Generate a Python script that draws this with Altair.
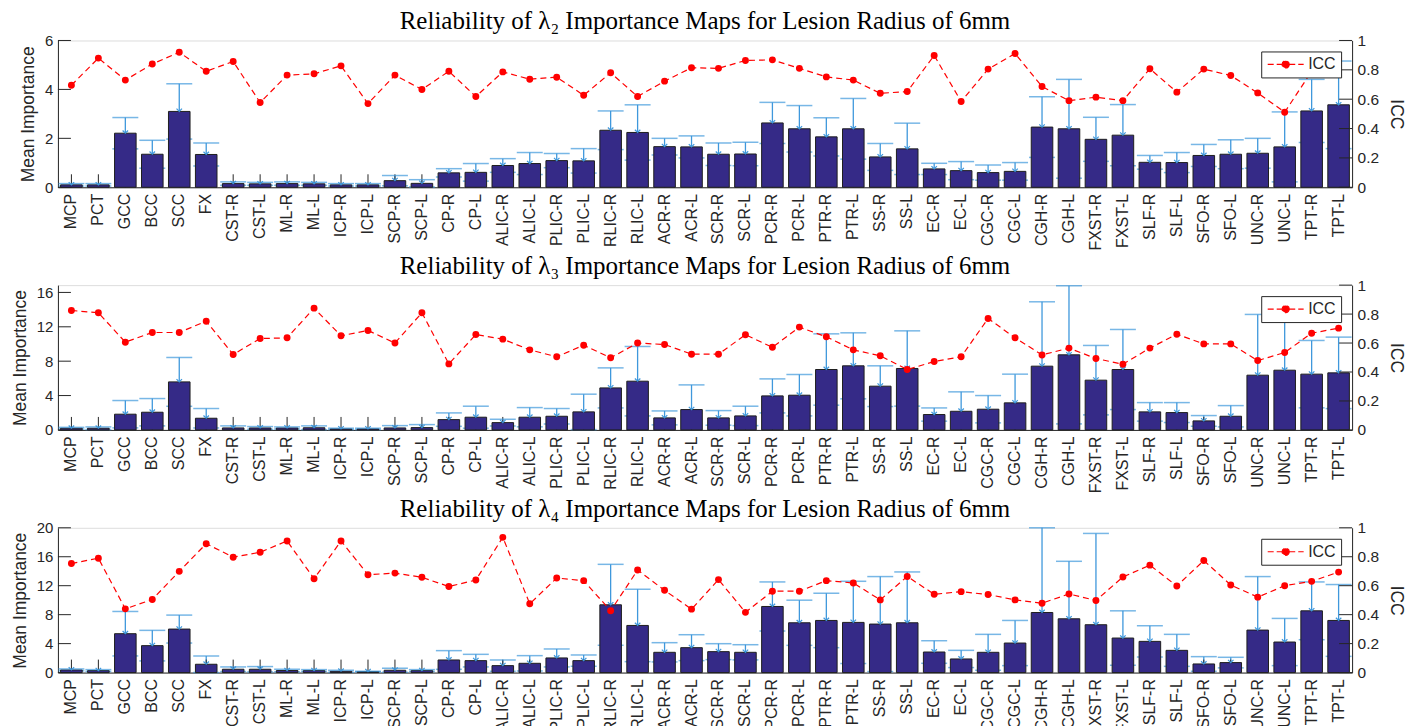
import altair as alt
import pandas as pd

categories = ["MCP", "PCT", "GCC", "BCC", "SCC", "FX", "CST-R", "CST-L", "ML-R", "ML-L",
              "ICP-R", "ICP-L", "SCP-R", "SCP-L", "CP-R", "CP-L", "ALIC-R", "ALIC-L",
              "PLIC-R", "PLIC-L", "RLIC-R", "RLIC-L", "ACR-R", "ACR-L", "SCR-R", "SCR-L",
              "PCR-R", "PCR-L", "PTR-R", "PTR-L", "SS-R", "SS-L", "EC-R", "EC-L",
              "CGC-R", "CGC-L", "CGH-R", "CGH-L", "FXST-R", "FXST-L", "SLF-R", "SLF-L",
              "SFO-R", "SFO-L", "UNC-R", "UNC-L", "TPT-R", "TPT-L"]

# lambda 2
mean_l2 = [0.10, 0.10, 2.21, 1.35, 3.10, 1.34, 0.15, 0.14, 0.15, 0.14, 0.10, 0.10, 0.27, 0.16, 0.59, 0.61,
           0.89, 0.97, 1.09, 1.08, 2.33, 2.24, 1.66, 1.65, 1.35, 1.36, 2.63, 2.39, 2.06, 2.39, 1.24, 1.57,
           0.75, 0.68, 0.60, 0.65, 2.46, 2.39, 1.96, 2.13, 1.02, 1.01, 1.30, 1.35, 1.39, 1.65, 3.12, 3.37]
upper_l2 = [0.15, 0.15, 2.85, 1.92, 4.23, 1.81, 0.22, 0.20, 0.22, 0.20, 0.15, 0.15, 0.48, 0.31, 0.76, 0.97,
            1.17, 1.42, 1.38, 1.58, 3.12, 3.37, 2.00, 2.10, 1.81, 1.84, 3.47, 3.34, 2.84, 3.63, 1.79, 2.62,
            0.98, 1.05, 0.91, 1.01, 3.70, 4.41, 2.86, 3.38, 1.30, 1.42, 1.75, 1.94, 2.00, 3.08, 4.41, 5.16]
icc_l2 = [0.695, 0.88, 0.73, 0.84, 0.92, 0.79, 0.857, 0.577, 0.764, 0.773, 0.827, 0.57, 0.764, 0.666, 0.79, 0.618,
          0.786, 0.736, 0.75, 0.627, 0.78, 0.618, 0.723, 0.814, 0.81, 0.864, 0.868, 0.81, 0.752, 0.73, 0.64, 0.652,
          0.898, 0.584, 0.805, 0.911, 0.686, 0.59, 0.614, 0.59, 0.807, 0.648, 0.805, 0.761, 0.643, 0.511, 0.79, 0.873]

# lambda 3
mean_l3 = [0.20, 0.20, 1.83, 2.06, 5.59, 1.36, 0.23, 0.23, 0.23, 0.25, 0.12, 0.12, 0.23, 0.27, 1.20, 1.48,
           0.85, 1.48, 1.59, 2.10, 4.89, 5.67, 1.40, 2.37, 1.40, 1.63, 3.96, 4.04, 7.03, 7.46, 5.09, 7.15,
           1.79, 2.17, 2.41, 3.15, 7.42, 8.74, 5.79, 7.03, 2.10, 2.02, 1.05, 1.59, 6.37, 6.95, 6.49, 6.64]
upper_l3 = [0.30, 0.35, 3.42, 3.65, 8.43, 2.49, 0.47, 0.39, 0.35, 0.47, 0.20, 0.20, 0.50, 0.62, 1.98, 2.76,
            1.24, 2.60, 2.49, 4.16, 7.22, 9.71, 2.21, 5.24, 2.25, 2.76, 5.94, 6.45, 11.18, 11.30, 7.46, 11.53,
            2.56, 4.43, 4.00, 6.49, 14.91, 16.78, 9.83, 11.69, 3.18, 3.18, 1.67, 2.83, 13.44, 13.90, 10.41, 10.80]
icc_l3 = [0.825, 0.809, 0.606, 0.673, 0.673, 0.751, 0.521, 0.631, 0.636, 0.841, 0.65, 0.687, 0.6, 0.809, 0.456, 0.659,
          0.627, 0.553, 0.505, 0.585, 0.498, 0.6, 0.59, 0.523, 0.523, 0.657, 0.571, 0.71, 0.643, 0.553, 0.512, 0.417,
          0.472, 0.505, 0.77, 0.636, 0.518, 0.565, 0.493, 0.454, 0.565, 0.661, 0.594, 0.594, 0.479, 0.535, 0.668, 0.703]

# lambda 4
mean_l4 = [0.37, 0.28, 5.37, 3.72, 6.01, 1.15, 0.46, 0.46, 0.28, 0.28, 0.18, 0.14, 0.32, 0.28, 1.74, 1.65,
           0.96, 1.28, 2.02, 1.65, 9.36, 6.51, 2.80, 3.44, 2.89, 2.80, 9.13, 6.88, 7.20, 6.93, 6.70, 6.88,
           2.84, 1.88, 2.80, 4.08, 8.30, 7.43, 6.61, 4.77, 4.31, 3.07, 1.19, 1.38, 5.87, 4.22, 8.53, 7.20]
upper_l4 = [0.50, 0.41, 8.44, 5.83, 7.94, 2.29, 0.78, 0.83, 0.46, 0.41, 0.32, 0.18, 0.60, 0.41, 3.03, 2.52,
            1.74, 2.34, 3.26, 2.43, 14.95, 11.51, 4.13, 5.23, 3.99, 3.85, 12.52, 10.00, 10.96, 12.61, 13.26, 13.90,
            4.40, 3.07, 5.28, 7.20, 20.00, 15.37, 19.22, 8.53, 6.47, 5.28, 2.20, 2.11, 13.26, 7.48, 12.52, 12.16]
icc_l4 = [0.753, 0.79, 0.44, 0.505, 0.699, 0.89, 0.797, 0.831, 0.909, 0.648, 0.909, 0.676, 0.687, 0.658, 0.594, 0.639,
          0.934, 0.475, 0.653, 0.635, 0.427, 0.708, 0.568, 0.438, 0.642, 0.416, 0.562, 0.562, 0.635, 0.619, 0.502, 0.664,
          0.541, 0.559, 0.539, 0.502, 0.479, 0.543, 0.498, 0.66, 0.742, 0.598, 0.774, 0.605, 0.521, 0.6, 0.63, 0.694]

titles = ["Reliability of λ₂ Importance Maps for Lesion Radius of 6mm",
          "Reliability of λ₃ Importance Maps for Lesion Radius of 6mm",
          "Reliability of λ₄ Importance Maps for Lesion Radius of 6mm"]
left_max = [6, 16.85, 20]
left_ticks = [[0, 2, 4, 6], [0, 4, 8, 12, 16], [0, 4, 8, 12, 16, 20]]
icc_ticks = [0, 0.2, 0.4, 0.6, 0.8, 1]
panel_heights = [147, 145, 145]

W = 1296
BAR = "#352a87"
ERR = "#3f98dc"
RED = "#ff0000"
AX = "#262626"

# dashed line with a dot in its middle (legend sample); unit = sqrt(size)/2 px
LEGEND_PATH = ("M-1,0L1.22,0M2.32,0L4.54,0"
               "M2.32,0A0.55,0.55 0 1 1 1.22,0A0.55,0.55 0 1 1 2.32,0")


def panel(title, mean, upper, icc, ymax, yt, H):
    df = pd.DataFrame({"cat": categories, "mean": mean, "upper": upper, "icc": icc})
    df["lower"] = (2 * df["mean"] - df["upper"]).clip(lower=0)
    df["series"] = "ICC"
    tdf = pd.DataFrame({"v": yt})
    idf = pd.DataFrame({"v": icc_ticks})

    xenc = alt.X("cat:N", sort=categories, title=None,
                 scale=alt.Scale(paddingInner=0.2, paddingOuter=0.1),
                 axis=alt.Axis(labelAngle=-90, labelFontSize=16, labelColor=AX, ticks=False,
                               domainColor=AX, labelPadding=6, labelFont="Liberation Sans"))
    ls = alt.Scale(domain=[0, ymax], nice=False, zero=True)
    rs = alt.Scale(domain=[0, 1], nice=False)
    LA = alt.Axis(orient="left", values=yt, title="Mean Importance", ticks=False,
                  grid=False, labelFontSize=15, titleFontSize=17.5, titleFontWeight="normal",
                  labelColor=AX, titleColor=AX, domainColor=AX, labelPadding=5,
                  titlePadding=7, labelFont="Liberation Sans", titleFont="Liberation Sans")
    RA = alt.Axis(orient="right", values=icc_ticks, format="~g", title="ICC", ticks=False,
                  grid=False, labelFontSize=15.5, titleFontSize=17.5, titleFontWeight="normal",
                  labelColor=AX, titleColor=AX, domainColor=AX, labelPadding=5,
                  titlePadding=8, labelFont="Liberation Sans", titleFont="Liberation Sans")

    base = alt.Chart(df)
    err = base.mark_rule(color=ERR, strokeWidth=1.3).encode(
        x=xenc, y=alt.Y("lower:Q", scale=ls, axis=LA), y2="upper:Q")
    lowcap = base.transform_filter("datum.lower > 0").mark_tick(
        color=ERR, thickness=1.5, size=26).encode(x=xenc, y=alt.Y("lower:Q", scale=ls, axis=LA))
    xt = base.mark_rule(color=AX, strokeWidth=1).encode(
        x=xenc, y=alt.value(H), y2=alt.value(H - 13))
    ytl = alt.Chart(tdf).mark_rule(color=AX, strokeWidth=1).encode(
        y=alt.Y("v:Q", scale=ls, axis=LA), x=alt.value(0), x2=alt.value(13))
    bars = base.mark_bar(color=BAR, stroke="#1e1e1e", strokeWidth=1).encode(
        x=xenc, y=alt.Y("mean:Q", scale=ls, axis=LA))
    upcap = base.mark_tick(color=ERR, thickness=1.5, size=26).encode(
        x=xenc, y=alt.Y("upper:Q", scale=ls, axis=LA))
    arrow = base.mark_point(shape="M-1,-1L0,0L1,-1", size=30, filled=False, color=ERR,
                            strokeWidth=1.2, opacity=1).encode(
        x=xenc, y=alt.Y("mean:Q", scale=ls, axis=LA))
    left = alt.layer(err, lowcap, xt, ytl, bars, upcap, arrow)

    line = base.mark_line(strokeDash=[6, 4], strokeWidth=1.2).encode(
        x=xenc,
        y=alt.Y("icc:Q", scale=rs, axis=RA),
        color=alt.Color("series:N", scale=alt.Scale(domain=["ICC"], range=[RED]),
                        legend=alt.Legend(title=None, orient="top-right", offset=11,
                                          symbolType=LEGEND_PATH, symbolSize=169,
                                          symbolStrokeWidth=1.2, symbolDash=[6, 3],
                                          symbolFillColor=RED, symbolStrokeColor=RED,
                                          labelFontSize=16, labelColor=AX, labelFont="Liberation Sans",
                                          fillColor="white", strokeColor=AX, padding=5,
                                          labelOffset=26)))
    pts = base.mark_point(filled=True, size=48, color=RED, opacity=1).encode(
        x=xenc, y=alt.Y("icc:Q", scale=rs, axis=RA))
    ytr = alt.Chart(idf).mark_rule(color=AX, strokeWidth=1).encode(
        y=alt.Y("v:Q", scale=rs, axis=RA), x=alt.value(W - 13), x2=alt.value(W))
    right = alt.layer(ytr, line, pts)

    return alt.layer(left, right).resolve_scale(y="independent").properties(
        width=W, height=H,
        title=alt.TitleParams(title, font="Liberation Serif", fontSize=25, fontWeight="normal",
                              color="black", offset=-1, anchor="middle"))


p1 = panel(titles[0], mean_l2, upper_l2, icc_l2, left_max[0], left_ticks[0], panel_heights[0])
p2 = panel(titles[1], mean_l3, upper_l3, icc_l3, left_max[1], left_ticks[1], panel_heights[1])
p3 = panel(titles[2], mean_l4, upper_l4, icc_l4, left_max[2], left_ticks[2], panel_heights[2])

chart = alt.vconcat(p1, p2, p3, spacing=2).resolve_scale(
    color="independent", x="independent", y="independent").resolve_legend(
    color="independent").properties(
    padding={"left": 2, "top": 0, "right": 5, "bottom": 5}
).configure_view(strokeWidth=0, stroke="transparent").configure(font="Liberation Sans")

chart.save("out.html", embed_options={"renderer": "svg", "actions": False})
